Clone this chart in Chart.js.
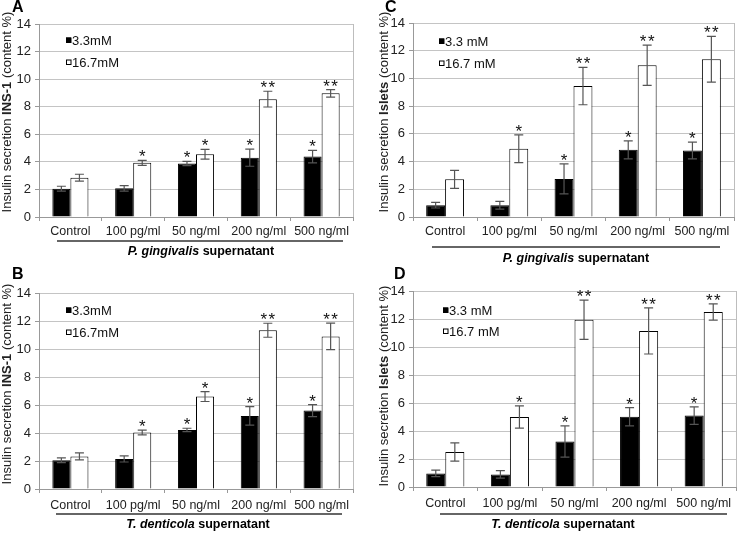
<!DOCTYPE html>
<html>
<head>
<meta charset="utf-8">
<script src="https://cdn.jsdelivr.net/npm/chart.js@4.4.1/dist/chart.umd.min.js"></script>
<style>
  body { margin: 0; background: #fff; }
  #wrap { position: relative; width: 738px; height: 533px; overflow: hidden; }
  #wrap canvas { position: absolute; left: 0; top: 0; }
</style>
</head>
<body>
<div id="wrap">
  <canvas id="panelA" width="738" height="533"></canvas>
  <canvas id="panelB" width="738" height="533"></canvas>
  <canvas id="panelC" width="738" height="533"></canvas>
  <canvas id="panelD" width="738" height="533"></canvas>
</div>
<script>
// categories on the x axis (same for all four panels)
const categories = ['Control', '100 pg/ml', '50 ng/ml', '200 ng/ml', '500 ng/ml'];

// A: INS-1, P. gingivalis supernatant
const insPgLow = [2.05, 2.08, 3.88, 4.3, 4.38];
const insPgLowErr = [0.18, 0.2, 0.15, 0.62, 0.45];
const insPgHigh = [2.85, 3.93, 4.55, 8.55, 8.97];
const insPgHighErr = [0.25, 0.18, 0.35, 0.57, 0.27];
const insPgLowSig = ['', '', '*', '*', '*'];
const insPgHighSig = ['', '*', '*', '**', '**'];

// B: INS-1, T. denticola supernatant
const insTdLow = [2.05, 2.15, 4.22, 5.22, 5.6];
const insTdLowErr = [0.17, 0.22, 0.12, 0.66, 0.43];
const insTdHigh = [2.33, 4.03, 6.6, 11.34, 10.9];
const insTdHighErr = [0.25, 0.17, 0.35, 0.5, 0.95];
const insTdLowSig = ['', '', '*', '*', '*'];
const insTdHighSig = ['', '*', '*', '**', '**'];

// C: Islets, P. gingivalis supernatant
const islPgLow = [0.85, 0.85, 2.75, 4.85, 4.8];
const islPgLowErr = [0.2, 0.28, 1.08, 0.65, 0.6];
const islPgHigh = [2.72, 4.93, 9.45, 10.95, 11.38];
const islPgHighErr = [0.65, 1.0, 1.35, 1.45, 1.65];
const islPgLowSig = ['', '', '*', '*', '*'];
const islPgHighSig = ['', '*', '**', '**', '**'];

// D: Islets, T. denticola supernatant
const islTdLow = [0.97, 0.9, 3.25, 5.02, 5.1];
const islTdLowErr = [0.23, 0.27, 1.12, 0.65, 0.62];
const islTdHigh = [2.5, 5.0, 11.95, 11.15, 12.5];
const islTdHighErr = [0.65, 0.8, 1.4, 1.65, 0.58];
const islTdLowSig = ['', '', '*', '*', '*'];
const islTdHighSig = ['', '*', '**', '**', '**'];

const FONT = '"Liberation Sans", Arial, Helvetica, sans-serif';
Chart.defaults.font.family = FONT;
Chart.defaults.color = '#222';

const XH = 24; // height given to the x scale box

// draws a string made of [text, fontPrefix] pieces, centred on x
function drawPieces(ctx, pieces, x, y, size) {
    let total = 0;
    pieces.forEach(p => {
        ctx.font = p[1] + ' ' + size + 'px ' + FONT;
        total += ctx.measureText(p[0]).width;
    });
    let cx = x - total / 2;
    pieces.forEach(p => {
        ctx.font = p[1] + ' ' + size + 'px ' + FONT;
        ctx.fillText(p[0], cx, y);
        cx += ctx.measureText(p[0]).width;
    });
}

const extras = {
    id: 'extras',
    afterDatasetsDraw(chart) {
        const ctx = chart.ctx;
        const y = chart.scales.y;
        ctx.save();
        chart.data.datasets.forEach((ds, di) => {
            const meta = chart.getDatasetMeta(di);
            meta.data.forEach((bar, i) => {
                const v = ds.data[i], e = ds.err[i];
                const top = y.getPixelForValue(v + e);
                const bot = y.getPixelForValue(v - e);
                ctx.strokeStyle = '#555';
                ctx.lineWidth = 1.2;
                ctx.beginPath();
                ctx.moveTo(bar.x, top); ctx.lineTo(bar.x, bot);
                ctx.moveTo(bar.x - 4.5, top); ctx.lineTo(bar.x + 4.5, top);
                ctx.moveTo(bar.x - 4.5, bot); ctx.lineTo(bar.x + 4.5, bot);
                ctx.stroke();
                if (ds.sig[i]) {
                    ctx.fillStyle = '#111';
                    ctx.font = '17px ' + FONT;
                    ctx.textAlign = 'center';
                    ctx.textBaseline = 'alphabetic';
                    const txt = ds.sig[i].split('').join('\u200A');
                    ctx.fillText(txt, bar.x, top + 2);
                }
            });
        });
        ctx.restore();
    },
    afterDraw(chart, args, p) {
        const ctx = chart.ctx;
        const a = chart.chartArea;
        ctx.save();
        // right border of plot
        ctx.strokeStyle = '#bdbdbd';
        ctx.lineWidth = 1;
        ctx.beginPath();
        ctx.moveTo(a.right + 0.5, a.top);
        ctx.lineTo(a.right + 0.5, a.bottom);
        ctx.stroke();

        // panel letter
        ctx.fillStyle = '#000';
        ctx.font = 'bold 16px ' + FONT;
        ctx.textAlign = 'left';
        ctx.textBaseline = 'middle';
        ctx.fillText(p.letter, p.letterPos[0], p.letterPos[1]);

        // y axis title
        ctx.save();
        ctx.translate(p.yTitlePos[0], p.yTitlePos[1]);
        ctx.rotate(-Math.PI / 2);
        ctx.fillStyle = '#222';
        ctx.textAlign = 'left';
        ctx.textBaseline = 'middle';
        drawPieces(ctx, [['Insulin secretion ', ''], [p.cell, 'bold'], [' (content %)', '']], 0, 0, 13);
        ctx.restore();

        // legend
        chart.data.datasets.forEach((ds, i) => {
            const ly = p.legendY[i];
            ctx.fillStyle = ds.backgroundColor;
            ctx.strokeStyle = '#000';
            ctx.lineWidth = 1;
            ctx.fillRect(p.legendX, ly - 3.5, 5, 5);
            ctx.strokeRect(p.legendX + 0.5, ly - 3, 4.5, 4.5);
            ctx.fillStyle = '#111';
            ctx.font = '13px ' + FONT;
            ctx.textAlign = 'left';
            ctx.textBaseline = 'middle';
            ctx.fillText(ds.label, p.legendX + 6, ly);
        });

        // bracket line under categories with treatment label
        ctx.strokeStyle = '#333';
        ctx.lineWidth = 1.5;
        ctx.beginPath();
        ctx.moveTo(p.line[0], p.line[2]);
        ctx.lineTo(p.line[1], p.line[2]);
        ctx.stroke();
        ctx.fillStyle = '#000';
        ctx.textAlign = 'left';
        ctx.textBaseline = 'middle';
        drawPieces(ctx, [[p.species, 'italic bold'], [' supernatant', 'bold']], p.label[0], p.label[1], 12.5);
        ctx.restore();
    }
};

function makePanel(id, p) {
    new Chart(document.getElementById(id), {
        type: 'bar',
        data: {
            labels: categories,
            datasets: [
                {label: p.legend[0], data: p.low, err: p.lowErr, sig: p.lowSig,
                 backgroundColor: '#000', borderColor: '#000', borderWidth: 1},
                {label: p.legend[1], data: p.high, err: p.highErr, sig: p.highSig,
                 backgroundColor: '#fff', borderColor: '#000', borderWidth: 1}
            ]
        },
        options: {
            responsive: false,
            animation: false,
            devicePixelRatio: 1,
            layout: {padding: {left: 0, top: p.area[1], right: 738 - p.area[2], bottom: 533 - p.area[3] - XH}},
            datasets: {bar: {categoryPercentage: p.catPct, barPercentage: 1}},
            scales: {
                x: {
                    afterFit: s => { s.height = XH; },
                    grid: {drawOnChartArea: false, tickLength: 4, color: '#999'},
                    border: {color: '#999'},
                    ticks: {font: {size: 12.5}, color: '#222', padding: p.xPad, autoSkip: false, maxRotation: 0}
                },
                y: {
                    min: 0, max: 14,
                    afterFit: s => { s.width = p.area[0]; },
                    grid: {color: '#c4c4c4', tickLength: 4, tickColor: '#999'},
                    border: {color: '#999'},
                    ticks: {stepSize: 2, font: {size: 13}, color: '#222', padding: 4}
                }
            },
            plugins: {legend: {display: false}, tooltip: {enabled: false}, extras: p}
        },
        plugins: [extras]
    });
}

makePanel('panelA', {
    letter: 'A', letterPos: [12, 8], cell: 'INS-1', species: 'P. gingivalis',
    area: [39, 24, 353, 217], catPct: 0.575, xPad: 3,
    yTitlePos: [7, 112], legendX: 66, legendY: [41, 63], legend: ['3.3mM', '16.7mM'],
    line: [57, 343, 241], label: [201, 252],
    low: insPgLow, lowErr: insPgLowErr, lowSig: insPgLowSig,
    high: insPgHigh, highErr: insPgHighErr, highSig: insPgHighSig
});
makePanel('panelB', {
    letter: 'B', letterPos: [12, 275], cell: 'INS-1', species: 'T. denticola',
    area: [39, 293, 353, 489], catPct: 0.575, xPad: 5,
    yTitlePos: [7, 384], legendX: 66, legendY: [311, 333], legend: ['3.3mM', '16.7mM'],
    line: [56, 342, 514], label: [198, 525],
    low: insTdLow, lowErr: insTdLowErr, lowSig: insTdLowSig,
    high: insTdHigh, highErr: insTdHighErr, highSig: insTdHighSig
});
makePanel('panelC', {
    letter: 'C', letterPos: [385, 8], cell: 'Islets', species: 'P. gingivalis',
    area: [413, 23, 734, 217], catPct: 0.59, xPad: 3,
    yTitlePos: [384, 112], legendX: 439, legendY: [42, 64], legend: ['3.3 mM', '16.7 mM'],
    line: [432, 720, 247], label: [576, 259],
    low: islPgLow, lowErr: islPgLowErr, lowSig: islPgLowSig,
    high: islPgHigh, highErr: islPgHighErr, highSig: islPgHighSig
});
makePanel('panelD', {
    letter: 'D', letterPos: [394, 275], cell: 'Islets', species: 'T. denticola',
    area: [413, 291, 736, 487], catPct: 0.59, xPad: 5,
    yTitlePos: [384, 386], legendX: 443, legendY: [311, 332], legend: ['3.3 mM', '16.7 mM'],
    line: [440, 727, 514], label: [563, 525],
    low: islTdLow, lowErr: islTdLowErr, lowSig: islTdLowSig,
    high: islTdHigh, highErr: islTdHighErr, highSig: islTdHighSig
});
</script>
</body>
</html>
